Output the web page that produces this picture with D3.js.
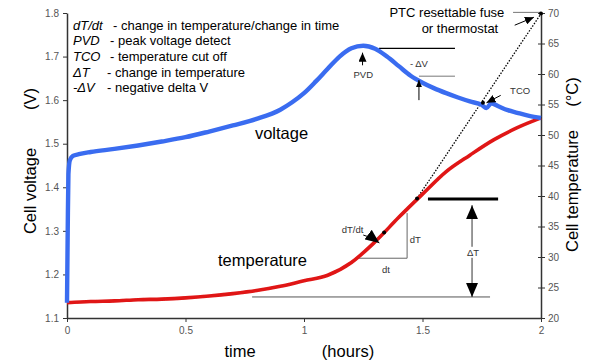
<!DOCTYPE html>
<html>
<head>
<meta charset="utf-8">
<script src="https://cdn.jsdelivr.net/npm/d3@7"></script>
<style>
  html, body { margin: 0; padding: 0; background: #fff; }
  svg { display: block; font-family: "Liberation Sans", Arial, sans-serif; }
</style>
</head>
<body>
<svg id="chart" width="590" height="362"></svg>
<script>
// Charge curve: cell voltage (V) against time (hours)
const voltTime = [0, 0.003, 0.006, 0.012, 0.025, 0.05, 0.1, 0.2, 0.3, 0.4, 0.5, 0.6, 0.7, 0.8, 0.9, 0.95,
  1.0, 1.05, 1.1, 1.15, 1.2, 1.25, 1.3, 1.35, 1.4, 1.45, 1.5, 1.55, 1.6, 1.65, 1.7, 1.75, 1.77, 1.79,
  1.82, 1.86, 1.9, 1.95, 2.0];
const voltage = [1.135, 1.30, 1.43, 1.462, 1.472, 1.476, 1.481, 1.488, 1.496, 1.505, 1.515, 1.528, 1.542,
  1.557, 1.578, 1.595, 1.616, 1.643, 1.672, 1.700, 1.719, 1.725, 1.718, 1.700, 1.678, 1.656, 1.640, 1.627,
  1.616, 1.606, 1.597, 1.589, 1.582, 1.593, 1.586, 1.577, 1.571, 1.564, 1.559];

// Cell temperature (°C) against time (hours)
const tempTime = [0, 0.1, 0.2, 0.3, 0.4, 0.5, 0.6, 0.7, 0.8, 0.9, 1.0, 1.1, 1.2, 1.3, 1.4, 1.5, 1.6, 1.7,
  1.8, 1.9, 2.0];
const temperature = [22.5, 22.7, 22.8, 23.0, 23.1, 23.3, 23.6, 24.0, 24.5, 25.2, 26.1, 27.0, 29.1, 32.5,
  36.5, 40.3, 44.0, 46.7, 49.2, 51.2, 52.8];

// Axis ticks
const timeTicks = [0, 0.5, 1, 1.5, 2];
const voltTicks = [1.1, 1.2, 1.3, 1.4, 1.5, 1.6, 1.7, 1.8];
const tempTicks = [20, 25, 30, 35, 40, 45, 50, 55, 60, 65, 70];

// Abbreviation key
const keyTerms = ["dT/dt", "PVD", "TCO", "\u0394T", "-\u0394V"];
const keyDescriptions = ["- change in temperature/change in time", "- peak voltage detect",
  "- temperature cut off", "- change in temperature", "- negative delta V"];

const svg = d3.select("#chart");
const x = d3.scaleLinear().domain([0, 2]).range([67, 541]);
const yV = d3.scaleLinear().domain([1.1, 1.8]).range([318, 13]);
const yT = d3.scaleLinear().domain([20, 70]).range([318, 13]);

const defs = svg.append("defs");
// Arrowhead markers
function marker(id, w, h) {
  defs.append("marker").attr("id", id)
    .attr("viewBox", `0 0 ${w} ${h}`).attr("refX", w).attr("refY", h / 2)
    .attr("markerWidth", w).attr("markerHeight", h)
    .attr("markerUnits", "userSpaceOnUse").attr("orient", "auto-start-reverse")
    .append("path").attr("d", `M0,0L${w},${h / 2}L0,${h}Z`).attr("fill", "#000");
}
marker("arrow", 9, 8);
marker("arrowBig", 14, 12);
marker("arrowSmall", 7, 6);

// Slightly ragged edge for the logged temperature trace
const rough = defs.append("filter").attr("id", "rough")
  .attr("x", "-5%").attr("y", "-5%").attr("width", "110%").attr("height", "110%");
rough.append("feTurbulence").attr("type", "fractalNoise").attr("baseFrequency", 0.8)
  .attr("numOctaves", 1).attr("seed", 3).attr("result", "noise");
rough.append("feDisplacementMap").attr("in", "SourceGraphic").attr("in2", "noise")
  .attr("scale", 1.6).attr("xChannelSelector", "R").attr("yChannelSelector", "G");

// Axes
const axisColor = "#333";
function styleAxis(g) {
  g.select(".domain").attr("stroke", axisColor).attr("stroke-width", 1.5);
  g.selectAll(".tick line").attr("stroke", axisColor);
  g.selectAll(".tick text").attr("fill", "#555").style("font-size", "10px")
    .style("font-family", "Liberation Sans, Arial, sans-serif");
}
svg.append("g").attr("transform", `translate(0,${yV(1.1)})`)
  .call(d3.axisBottom(x).tickValues(timeTicks).tickSize(4).tickSizeOuter(0).tickPadding(5)
    .tickFormat(d3.format("")))
  .call(styleAxis);
svg.append("g").attr("transform", `translate(${x(0)},0)`)
  .call(d3.axisLeft(yV).tickValues(voltTicks).tickSize(4).tickSizeOuter(0).tickPadding(4)
    .tickFormat(d3.format(".1f")))
  .call(styleAxis);
const rightAxis = svg.append("g").attr("transform", `translate(${x(2)},0)`)
  .call(d3.axisRight(yT).tickValues(tempTicks).tickSize(4).tickSizeOuter(0).tickPadding(3))
  .call(styleAxis);
rightAxis.selectAll(".tick line").attr("x1", -3);

// Axis titles
svg.append("text").attr("transform", `translate(36,191) rotate(-90)`)
  .attr("text-anchor", "middle").style("font-size", "16.5px").text("Cell voltage");
svg.append("text").attr("transform", `translate(36,99) rotate(-90)`)
  .attr("text-anchor", "middle").style("font-size", "16.5px").text("(V)");
svg.append("text").attr("transform", `translate(578,191) rotate(-90)`)
  .attr("text-anchor", "middle").style("font-size", "16.5px").text("Cell temperature");
svg.append("text").attr("transform", `translate(578,92) rotate(-90)`)
  .attr("text-anchor", "middle").style("font-size", "16.5px").text("(\u00B0C)");
svg.append("text").attr("x", 240).attr("y", 357).attr("text-anchor", "middle")
  .style("font-size", "16.5px").text("time");
svg.append("text").attr("x", 348).attr("y", 357).attr("text-anchor", "middle")
  .style("font-size", "16.5px").text("(hours)");

// Reference lines for ΔT and -ΔV
const ann = svg.append("g").attr("fill", "none");
ann.append("line").attr("x1", x(0.781)).attr("x2", x(1.785)).attr("y1", yT(23.45)).attr("y2", yT(23.45))
  .attr("stroke", "#555").attr("stroke-width", 1);
ann.append("line").attr("x1", x(1.523)).attr("x2", x(1.819)).attr("y1", yT(39.5)).attr("y2", yT(39.5))
  .attr("stroke", "#000").attr("stroke-width", 3);
ann.append("line").attr("x1", x(1.709)).attr("x2", x(1.709)).attr("y1", yT(38.5)).attr("y2", yT(23.45))
  .attr("stroke", "#333").attr("stroke-width", 1)
  .attr("marker-start", "url(#arrowBig)").attr("marker-end", "url(#arrowBig)");
ann.append("line").attr("x1", x(1.316)).attr("x2", x(1.637)).attr("y1", yV(1.719)).attr("y2", yV(1.719))
  .attr("stroke", "#000").attr("stroke-width", 1.2);
ann.append("line").attr("x1", x(1.485)).attr("x2", x(1.637)).attr("y1", yV(1.655)).attr("y2", yV(1.655))
  .attr("stroke", "#777").attr("stroke-width", 1);
ann.append("line").attr("x1", x(1.882)).attr("x2", x(2)).attr("y1", yT(70.1)).attr("y2", yT(70.1))
  .attr("stroke", "#777").attr("stroke-width", 1);

// Data lines
const tempLine = d3.line().x((d, i) => x(tempTime[i])).y(d => yT(d)).curve(d3.curveMonotoneX);
const voltLine = d3.line().x((d, i) => x(voltTime[i])).y(d => yV(d)).curve(d3.curveMonotoneX);
svg.append("path").datum(temperature).attr("d", tempLine).attr("fill", "none")
  .attr("stroke", "#e01414").attr("stroke-width", 3.6).attr("stroke-linejoin", "round")
  .attr("filter", "url(#rough)");
svg.append("path").datum(voltage).attr("d", voltLine).attr("fill", "none")
  .attr("stroke", "#3a6cf0").attr("stroke-width", 4.4).attr("stroke-linejoin", "round");

// dT/dt construction: tangent, triangle and extrapolated dotted line
ann.append("line").attr("x1", x(1.228)).attr("y1", yT(29.8)).attr("x2", x(1.477)).attr("y2", yT(39.6))
  .attr("stroke", "#222").attr("stroke-width", 1.2);
ann.append("polyline").attr("points", [[x(1.228), yT(29.8)], [x(1.435), yT(29.8)], [x(1.435), yT(37.2)]].join(" "))
  .attr("stroke", "#666").attr("stroke-width", 1);
ann.append("line").attr("x1", x(1.477)).attr("y1", yT(39.6)).attr("x2", x(2)).attr("y2", yT(69.9))
  .attr("stroke", "#000").attr("stroke-width", 1.3).attr("stroke-dasharray", "1.5,1.5");

// Marker dots
const dots = [[x(1.338), yT(34.0)], [x(1.477), yT(39.6)], [x(1.755), yT(55.3)], [x(2), yT(69.9)]];
svg.append("g").selectAll("circle").data(dots).join("circle")
  .attr("cx", d => d[0]).attr("cy", d => d[1]).attr("r", 2).attr("fill", "#000");

// Pointer arrows
const arrows = svg.append("g").attr("stroke", "#000").attr("fill", "none");
arrows.append("line").attr("x1", x(1.247)).attr("x2", x(1.247)).attr("y1", yV(1.68)).attr("y2", yV(1.709))
  .attr("stroke-width", 1).attr("marker-end", "url(#arrow)");
arrows.append("line").attr("x1", x(1.485)).attr("x2", x(1.485)).attr("y1", yV(1.600)).attr("y2", yV(1.646))
  .attr("stroke-width", 1).attr("marker-end", "url(#arrowSmall)");
arrows.append("line").attr("x1", x(1.83)).attr("y1", yV(1.611)).attr("x2", x(1.77)).attr("y2", yV(1.594))
  .attr("stroke-width", 1).attr("marker-end", "url(#arrow)");
arrows.append("line").attr("x1", x(1.889)).attr("y1", yT(68.0)).attr("x2", x(1.97)).attr("y2", yT(69.3))
  .attr("stroke-width", 1).attr("marker-end", "url(#arrow)");
arrows.append("path")
  .attr("d", `M${x(1.25)},${yT(33.6)} Q${x(1.28)},${yT(33.4)} ${x(1.318)},${yT(32.3)}`)
  .attr("stroke-width", 1).attr("marker-end", "url(#arrowBig)");

// Small annotation labels
const small = svg.append("g").style("font-size", "9.5px").attr("fill", "#333").attr("text-anchor", "middle");
small.append("text").attr("x", x(1.25)).attr("y", yV(1.651)).text("PVD");
small.append("text").attr("x", x(1.485)).attr("y", yV(1.676)).text("- \u0394V");
small.append("text").attr("x", x(1.912)).attr("y", yV(1.613)).text("TCO");
small.append("text").attr("x", x(1.205)).attr("y", yT(33.9)).text("dT/dt");
small.append("text").attr("x", x(1.47)).attr("y", yT(32.3)).text("dT");
small.append("text").attr("x", x(1.346)).attr("y", yT(27.4)).text("dt");
const dtLabel = small.append("text").attr("x", x(1.713)).attr("y", yT(30.2)).text("\u0394T");
const bb = dtLabel.node().getBBox();
small.insert("rect", () => dtLabel.node()).attr("x", bb.x - 1).attr("y", bb.y).attr("width", bb.width + 2)
  .attr("height", bb.height).attr("fill", "#fff");

// Curve names and fuse label
svg.append("text").attr("x", x(0.905)).attr("y", yV(1.511)).attr("text-anchor", "middle")
  .style("font-size", "16.5px").text("voltage");
svg.append("text").attr("x", x(0.825)).attr("y", yT(28.6)).attr("text-anchor", "middle")
  .style("font-size", "16.5px").text("temperature");
svg.append("text").attr("x", x(1.603)).attr("y", yT(69.4)).attr("text-anchor", "middle")
  .style("font-size", "13px").text("PTC resettable fuse");
svg.append("text").attr("x", x(1.658)).attr("y", yT(66.8)).attr("text-anchor", "middle")
  .style("font-size", "13px").text("or thermostat");

// Abbreviation key
const keyDashX = [113, 110, 110, 107, 107];
const key = svg.append("g").style("font-size", "13px").attr("fill", "#000");
keyTerms.forEach((term, i) => {
  const t = key.append("text").attr("y", 29.5 + i * 15.7);
  t.append("tspan").attr("x", 73).style("font-style", "italic").text(term);
  t.append("tspan").attr("x", keyDashX[i]).text(keyDescriptions[i]);
});
</script>
</body>
</html>
